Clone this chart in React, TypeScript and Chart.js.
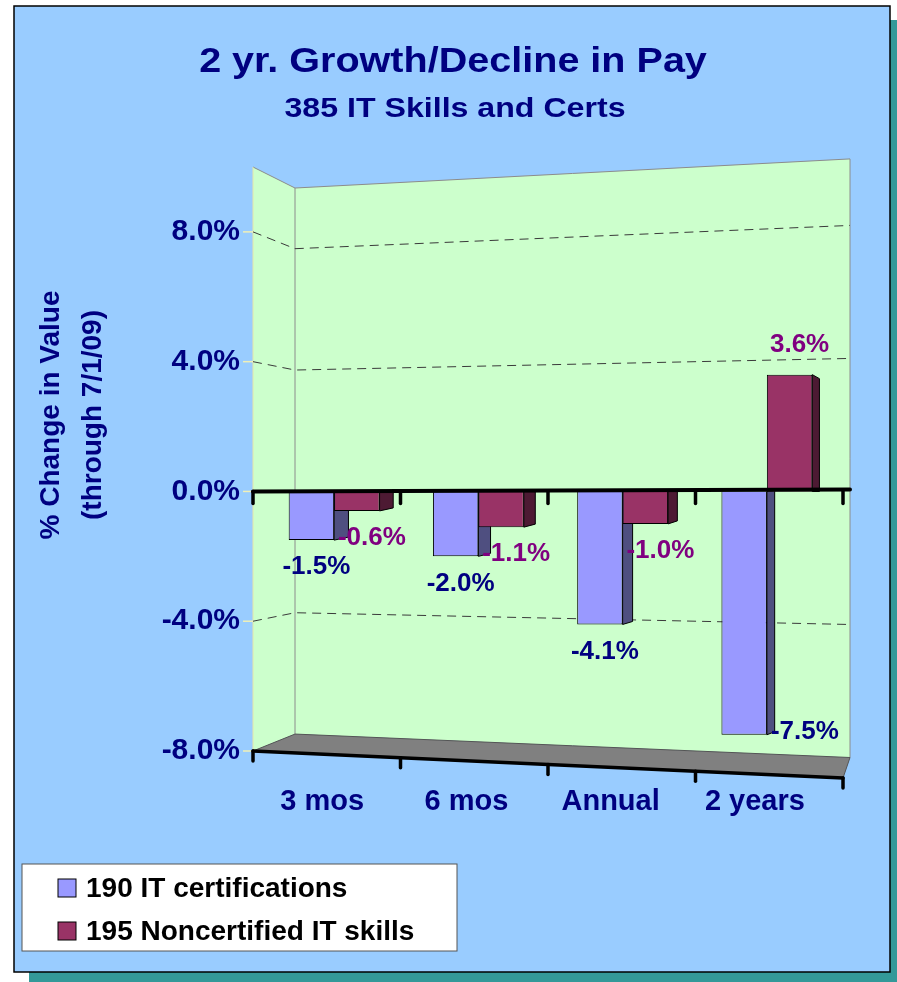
import { useEffect, useRef } from 'react';
import { Chart, registerables } from 'chart.js';

Chart.register(...registerables);

const W = 897;
const H = 982;
const FONT = '"Liberation Sans", Arial, Helvetica, sans-serif';
const NAVY = '#000080';
const PURPLE = '#800080';

const titleText = '2 yr. Growth/Decline in Pay';
const subtitleText = '385 IT Skills and Certs';
const yAxisTitle = ['% Change in Value', '(through 7/1/09)'];

const categories = ['3 mos', '6 mos', 'Annual', '2 years'];
const seriesNames = ['190 IT certifications', '195 Noncertified IT skills'];
const certValues = [-1.5, -2.0, -4.1, -7.5];
const noncertValues = [-0.6, -1.1, -1.0, 3.6];
const yTicks = [-8, -4, 0, 4, 8];
const yMin = -8;
const yMax = 10;

const frontColors = ['#9999FF', '#993366'];
const sideColors = ['#4F4F80', '#4D1A33'];
const labelColors = [NAVY, PURPLE];

export default function App() {
  const ref = useRef<HTMLCanvasElement>(null);

  useEffect(() => {
    const canvas = ref.current;
    if (!canvas) return;

    // perspective geometry of the walls (styling)
    const FL = 253; // front-left edge
    const BL = 295; // back-left edge
    const BR = 850; // back-right edge
    const FR = 843; // front-right edge of floor
    const backLeftY = (p: number, z: number) => z + (p - z) * 0.935;
    const backRightY = (p: number, z: number) => z + (p - z) * 1.025;

    const stretchedText = (
      ctx: CanvasRenderingContext2D,
      text: string,
      cx: number,
      cy: number,
      sx: number,
    ) => {
      ctx.save();
      ctx.translate(cx, cy);
      ctx.scale(sx, 1);
      ctx.fillText(text, 0, 0);
      ctx.restore();
    };

    const scene = {
      id: 'scene',
      beforeDraw(chart: any) {
        const ctx = chart.ctx as CanvasRenderingContext2D;
        const y = chart.scales.y;
        const z = y.getPixelForValue(0) - 1;
        ctx.save();
        ctx.fillStyle = '#FFFFFF';
        ctx.fillRect(0, 0, W, H);
        // shadow
        ctx.fillStyle = '#339999';
        ctx.fillRect(29, 20, W - 29, H - 20);
        // frame
        ctx.fillStyle = '#99CCFF';
        ctx.fillRect(14, 6, 876, 966);
        ctx.strokeStyle = '#000000';
        ctx.lineWidth = 1.5;
        ctx.strokeRect(14, 6, 876, 966);

        // titles
        ctx.fillStyle = NAVY;
        ctx.textAlign = 'center';
        ctx.textBaseline = 'alphabetic';
        ctx.font = `bold 35px ${FONT}`;
        stretchedText(ctx, titleText, 453, 72, 1.13);
        ctx.font = `bold 27px ${FONT}`;
        stretchedText(ctx, subtitleText, 455, 117, 1.19);

        // y axis title
        ctx.save();
        ctx.font = `bold 28px ${FONT}`;
        ctx.textAlign = 'center';
        ctx.translate(59, 415);
        ctx.rotate(-Math.PI / 2);
        ctx.fillText(yAxisTitle[0], 0, 0);
        ctx.restore();
        ctx.save();
        ctx.font = `bold 28px ${FONT}`;
        ctx.textAlign = 'center';
        ctx.fillStyle = NAVY;
        ctx.translate(101, 415);
        ctx.rotate(-Math.PI / 2);
        ctx.fillText(yAxisTitle[1], 0, 0);
        ctx.restore();

        const pTop = y.getPixelForValue(yMax);
        const pBot = y.getPixelForValue(yMin);

        // walls
        ctx.fillStyle = '#CCFFCC';
        ctx.beginPath();
        ctx.moveTo(FL, pTop);
        ctx.lineTo(BL, backLeftY(pTop, z));
        ctx.lineTo(BR, backRightY(pTop, z));
        ctx.lineTo(BR, backRightY(pBot, z));
        ctx.lineTo(BL, backLeftY(pBot, z));
        ctx.lineTo(FL, pBot);
        ctx.closePath();
        ctx.fill();
        ctx.strokeStyle = '#8C8C8C';
        ctx.lineWidth = 1;
        ctx.beginPath();
        ctx.moveTo(FL, pTop);
        ctx.lineTo(BL, backLeftY(pTop, z));
        ctx.lineTo(BR, backRightY(pTop, z));
        ctx.lineTo(BR, backRightY(pBot, z));
        ctx.moveTo(BL, backLeftY(pTop, z));
        ctx.lineTo(BL, backLeftY(pBot, z));
        ctx.stroke();
        ctx.strokeStyle = '#E6E6A8';
        ctx.beginPath();
        ctx.moveTo(FL, pTop);
        ctx.lineTo(FL, pBot);
        ctx.stroke();

        // y tick marks on left edge
        ctx.strokeStyle = '#F0F0B8';
        ctx.lineWidth = 1.5;
        yTicks.forEach((v) => {
          const p = y.getPixelForValue(v);
          ctx.beginPath();
          ctx.moveTo(FL - 10, p);
          ctx.lineTo(FL, p);
          ctx.stroke();
        });

        // dashed gridlines
        ctx.strokeStyle = '#3A3A3A';
        ctx.lineWidth = 1;
        ctx.setLineDash([9, 6]);
        yTicks.forEach((v) => {
          if (v === 0 || v === yMin) return;
          const p = y.getPixelForValue(v);
          ctx.beginPath();
          ctx.moveTo(FL, p);
          ctx.lineTo(BL, backLeftY(p, z));
          ctx.lineTo(BR, backRightY(p, z));
          ctx.stroke();
        });
        ctx.setLineDash([]);

        // floor
        const frontRightY = pBot + 27;
        ctx.fillStyle = '#808080';
        ctx.beginPath();
        ctx.moveTo(FL, pBot);
        ctx.lineTo(BL, backLeftY(pBot, z));
        ctx.lineTo(BR, backRightY(pBot, z));
        ctx.lineTo(FR, frontRightY);
        ctx.closePath();
        ctx.fill();
        ctx.strokeStyle = '#555555';
        ctx.lineWidth = 1;
        ctx.stroke();
        ctx.strokeStyle = '#000000';
        ctx.lineWidth = 3.5;
        ctx.lineCap = 'round';
        ctx.beginPath();
        ctx.moveTo(FL, pBot);
        ctx.lineTo(FR, frontRightY);
        ctx.stroke();
        // floor ticks at category boundaries
        const n = categories.length;
        const ca = chart.chartArea;
        for (let i = 0; i <= n; i++) {
          const bx = ca.left + (i * (ca.right - ca.left)) / n;
          const fx = FL + ((bx - ca.left) / (ca.right - ca.left)) * (FR - FL);
          const fy = pBot + ((fx - FL) / (FR - FL)) * (frontRightY - pBot);
          ctx.beginPath();
          ctx.moveTo(fx, fy);
          ctx.lineTo(fx, fy + 10);
          ctx.stroke();
        }
        ctx.restore();
      },
      beforeDatasetsDraw(chart: any) {
        const ctx = chart.ctx as CanvasRenderingContext2D;
        ctx.save();
        chart.data.datasets.forEach((_ds: any, i: number) => {
          const meta = chart.getDatasetMeta(i);
          meta.data.forEach((bar: any) => {
            const { x, y, base, width } = bar.getProps(['x', 'y', 'base', 'width'], true);
            const r = x + width / 2;
            const d = Math.max(6, 15 - ((r - 290) * 8) / 530);
            const top = Math.min(y, base);
            const bot = Math.max(y, base);
            const shiftTop = y < base ? 4 : -1;
            const shiftBot = y < base ? 0 : -3;
            ctx.fillStyle = sideColors[i];
            ctx.strokeStyle = '#000000';
            ctx.lineWidth = 1;
            ctx.beginPath();
            ctx.moveTo(r, top);
            ctx.lineTo(r + d, top + shiftTop);
            ctx.lineTo(r + d, bot + shiftBot);
            ctx.lineTo(r, bot);
            ctx.closePath();
            ctx.fill();
            ctx.stroke();
          });
        });
        ctx.restore();
      },
      afterDatasetsDraw(chart: any) {
        const ctx = chart.ctx as CanvasRenderingContext2D;
        const y = chart.scales.y;
        const ca = chart.chartArea;
        const z = y.getPixelForValue(0);
        ctx.save();
        // zero line
        ctx.strokeStyle = '#000000';
        ctx.lineWidth = 4;
        ctx.lineCap = 'round';
        ctx.beginPath();
        ctx.moveTo(FL, z);
        ctx.lineTo(BR, z - 2);
        ctx.stroke();
        const n = categories.length;
        ctx.lineWidth = 3.5;
        for (let i = 0; i <= n; i++) {
          const bx = ca.left + (i * (ca.right - ca.left)) / n;
          const fx = FL + ((bx - ca.left) / (ca.right - ca.left)) * (FR - FL);
          ctx.beginPath();
          ctx.moveTo(fx, z);
          ctx.lineTo(fx, z + 12);
          ctx.stroke();
        }

        // data labels
        ctx.font = `bold 26px ${FONT}`;
        ctx.textAlign = 'center';
        ctx.textBaseline = 'middle';
        chart.data.datasets.forEach((ds: any, i: number) => {
          const meta = chart.getDatasetMeta(i);
          meta.data.forEach((bar: any, j: number) => {
            const v = ds.data[j] as number;
            const { x, y: py, width } = bar.getProps(['x', 'y', 'width'], true);
            const txt = v.toFixed(1) + '%';
            let lx = x + (i === 0 ? 5 : 15);
            let ly = v >= 0 ? py - 30 : py + 27;
            if (v < 0 && ly + 12 > ca.bottom) {
              lx = x + width / 2 + 38;
              ly = py - 3;
            }
            if (v >= 0) lx = x + 10;
            ctx.fillStyle = labelColors[i];
            ctx.fillText(txt, lx, ly);
          });
        });

        // legend
        ctx.fillStyle = '#FFFFFF';
        ctx.fillRect(22, 864, 435, 87);
        ctx.strokeStyle = '#555555';
        ctx.lineWidth = 1;
        ctx.strokeRect(22, 864, 435, 87);
        ctx.font = `bold 28px ${FONT}`;
        ctx.textAlign = 'left';
        ctx.textBaseline = 'middle';
        chart.data.datasets.forEach((ds: any, i: number) => {
          const cy = 888 + i * 43;
          ctx.fillStyle = ds.backgroundColor;
          ctx.fillRect(58, cy - 9, 18, 18);
          ctx.strokeStyle = '#000000';
          ctx.strokeRect(58, cy - 9, 18, 18);
          ctx.fillStyle = '#000000';
          ctx.fillText(ds.label, 86, cy + 1);
        });
        ctx.restore();
      },
    };

    const chart = new Chart(canvas, {
      type: 'bar',
      data: {
        labels: categories,
        datasets: [
          {
            label: seriesNames[0],
            data: certValues,
            backgroundColor: frontColors[0],
            borderColor: '#000000',
            borderWidth: 1,
            categoryPercentage: 0.63,
            barPercentage: 1,
          },
          {
            label: seriesNames[1],
            data: noncertValues,
            backgroundColor: frontColors[1],
            borderColor: '#000000',
            borderWidth: 1,
            categoryPercentage: 0.63,
            barPercentage: 1,
          },
        ],
      },
      options: {
        responsive: false,
        animation: false,
        devicePixelRatio: 1,
        layout: { padding: { top: 167, right: 58, bottom: 0, left: 0 } },
        plugins: {
          legend: { display: false },
          tooltip: { enabled: false },
          title: { display: false },
        },
        scales: {
          x: {
            grid: { display: false, drawTicks: false },
            border: { display: false },
            ticks: {
              color: NAVY,
              font: { family: FONT, size: 29, weight: 'bold' },
              padding: 34,
              maxRotation: 0,
              labelOffset: -12,
            },
            afterFit: (s: any) => {
              s.height = 231;
            },
          },
          y: {
            min: yMin,
            max: yMax,
            grid: { display: false, drawTicks: false },
            border: { display: false },
            afterBuildTicks: (s: any) => {
              s.ticks = yTicks.map((v) => ({ value: v }));
            },
            ticks: {
              color: NAVY,
              font: { family: FONT, size: 30, weight: 'bold' },
              padding: 22,
              callback: (v: any) => Number(v).toFixed(1) + '%',
            },
            afterFit: (s: any) => {
              s.width = 262;
            },
          },
        },
      },
      plugins: [scene],
    } as any);

    return () => chart.destroy();
  }, []);

  return (
    <div style={{ position: 'absolute', left: 0, top: 0, width: W, height: H }}>
      <canvas ref={ref} width={W} height={H} style={{ display: 'block', width: W, height: H }} />
    </div>
  );
}
